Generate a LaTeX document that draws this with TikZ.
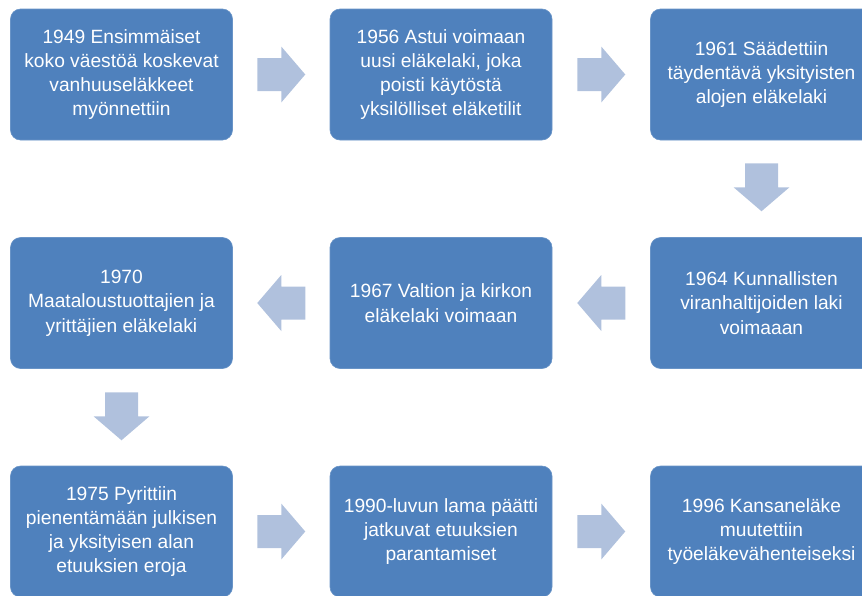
\documentclass[tikz,border=0pt]{standalone}
\usepackage{fontspec}
\setmainfont{Liberation Sans}
\usetikzlibrary{calc}
\definecolor{boxblue}{HTML}{4F81BD}
\definecolor{arrowblue}{HTML}{B0C1DD}
\tikzset{
  stepbox/.style={fill=boxblue, draw=boxblue!85!white, line width=0.6pt, rounded corners=10pt,
    minimum width=222pt, minimum height=131pt, inner sep=0pt, text=white, align=center,
    font=\fontsize{19.2}{24.3}\selectfont},
  blockarrow/.pic={\fill[arrowblue] (-24,-16.5) -- (0,-16.5) -- (0,-28) -- (24,0) -- (0,28) -- (0,16.5) -- (-24,16.5) -- cycle;}
}
\begin{document}
\begin{tikzpicture}[x=1pt,y=-1pt]
\useasboundingbox (0,0) rectangle (862,595);
% row 1
\node[stepbox] (b1) at (121.5,74.5) {1949 Ensimmäiset\\koko väestöä koskevat\\vanhuuseläkkeet\\myönnettiin};
\node[stepbox] (b2) at (441,74.5) {1956 Astui voimaan\\uusi eläkelaki, joka\\poisti käytöstä\\yksilölliset eläketilit};
\node[stepbox] (b3) at (761.5,74.5) {1961 Säädettiin\\täydentävä yksityisten\\alojen eläkelaki};
% row 2
\node[stepbox] (b4) at (761.5,303) {1964 Kunnallisten\\viranhaltijoiden laki\\voimaaan};
\node[stepbox] (b5) at (441,303) {1967 Valtion ja kirkon\\eläkelaki voimaan};
\node[stepbox] (b6) at (121.5,303) {1970\\Maataloustuottajien ja\\yrittäjien eläkelaki};
% row 3
\node[stepbox] (b7) at (121.5,531.5) {1975 Pyrittiin\\pienentämään julkisen\\ja yksityisen alan\\etuuksien eroja};
\node[stepbox] (b8) at (441,531.5) {1990-luvun lama päätti\\jatkuvat etuuksien\\parantamiset};
\node[stepbox] (b9) at (761.5,531.5) {1996 Kansaneläke\\muutettiin\\työeläkevähenteiseksi};
% arrows
\pic at ($(b1.east)!0.5!(b2.west)$) {blockarrow};
\pic at ($(b2.east)!0.5!(b3.west)$) {blockarrow};
\pic[rotate=-90] at ($(b3.south)!0.5!(b4.north)+(0,-1.5)$) {blockarrow};
\pic[rotate=180] at ($(b5.east)!0.5!(b4.west)$) {blockarrow};
\pic[rotate=180] at ($(b6.east)!0.5!(b5.west)$) {blockarrow};
\pic[rotate=-90] at ($(b6.south)!0.5!(b7.north)+(0,-1)$) {blockarrow};
\pic at ($(b7.east)!0.5!(b8.west)$) {blockarrow};
\pic at ($(b8.east)!0.5!(b9.west)$) {blockarrow};
\end{tikzpicture}
\end{document}
